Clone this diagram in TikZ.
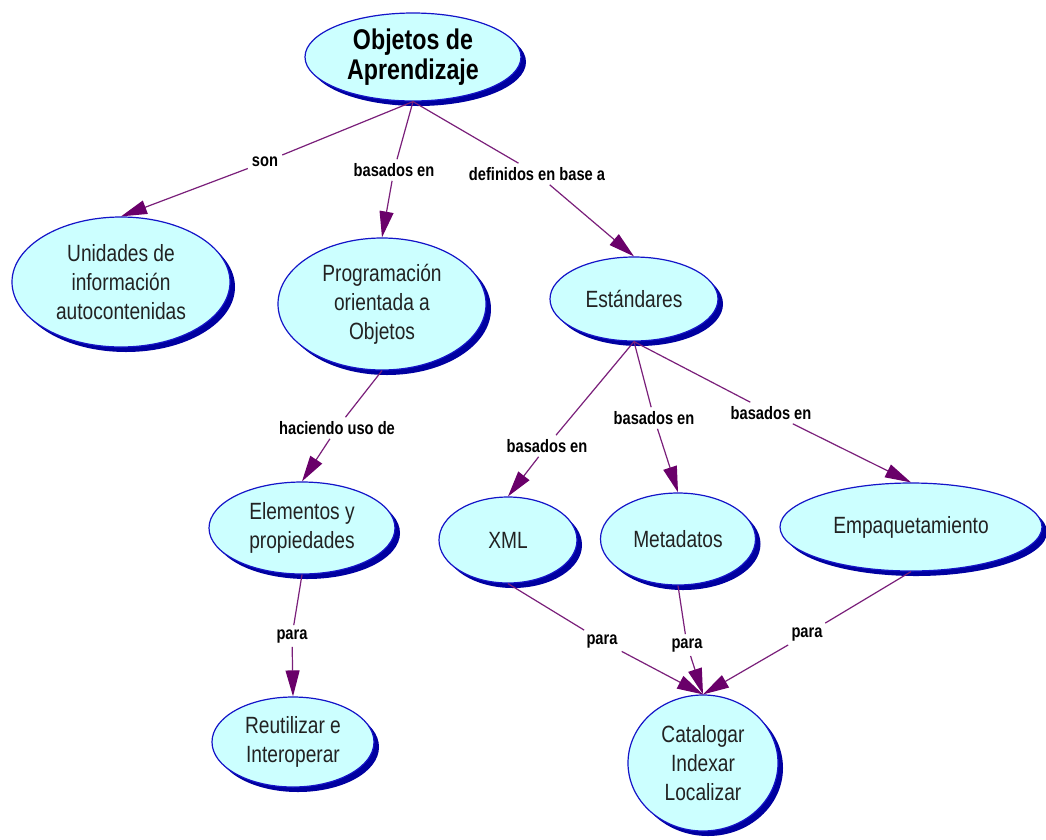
\documentclass[tikz,border=0pt]{standalone}
\usepackage{fontspec}
\setmainfont{Liberation Sans}[FakeStretch=0.815]
\usetikzlibrary{shapes.geometric,shadows,arrows.meta}
\definecolor{cfill}{HTML}{CCFFFF}
\definecolor{cborder}{HTML}{1414C8}
\definecolor{cshadow}{HTML}{0000A0}
\definecolor{clink}{HTML}{7A1F7A}
\definecolor{carrow}{HTML}{6A006A}
\definecolor{ctext}{HTML}{222222}
\begin{document}
\begin{tikzpicture}[x=1pt,y=-1pt,
  concept/.style={ellipse, draw=cborder, line width=1.2pt, fill=cfill,
    inner sep=0pt, align=center, text=ctext,
    font=\fontsize{23.5}{29}\selectfont,
    drop shadow={shadow xshift=5pt, shadow yshift=-5pt, fill=cshadow, opacity=1}},
  linklabel/.style={font=\bfseries\fontsize{18}{19}\selectfont, inner sep=4pt, text=black},
  link/.style={draw=clink, line width=1.2pt},
  arrowlink/.style={link, -{Triangle[length=26pt,width=14pt,color=carrow]}}]
\useasboundingbox (0,0) rectangle (1046,839);
\fill[white] (0,0) rectangle (1046,839);

% concepts
\node[concept, minimum width=216pt, minimum height=88pt,
      font=\bfseries\fontsize{28.5}{30}\selectfont, text=black] (obj) at (413,57) {Objetos de\\Aprendizaje};
\node[concept, minimum width=218pt, minimum height=130pt] (uni) at (121,282) {Unidades de\\información\\autocontenidas};
\node[concept, minimum width=208pt, minimum height=132pt] (poo) at (382,304) {Programación\\orientada a\\Objetos};
\node[concept, minimum width=168pt, minimum height=84pt] (est) at (634,299) {Estándares};
\node[concept, minimum width=186pt, minimum height=92pt] (ele) at (302,528) {Elementos y\\propiedades};
\node[concept, minimum width=138pt, minimum height=86pt] (xml) at (508,540) {XML};
\node[concept, minimum width=155pt, minimum height=92pt] (met) at (678,539) {Metadatos};
\node[concept, minimum width=262pt, minimum height=88pt] (emp) at (911,527) {Empaquetamiento};
\node[concept, minimum width=162pt, minimum height=90pt] (reu) at (293,742) {Reutilizar e\\Interoperar};
\node[concept, minimum width=150pt, minimum height=136pt] (cat) at (703,763) {Catalogar\\Indexar\\Localizar};

% link labels
\node[linklabel] (l1) at (265,162) {son};
\node[linklabel] (l2) at (394,170) {basados en};
\node[linklabel] (l3) at (537,174) {definidos en base a};
\node[linklabel] (l4) at (337,428) {haciendo uso de};
\node[linklabel] (l5) at (547,446) {basados en};
\node[linklabel] (l6) at (654,418) {basados en};
\node[linklabel] (l7) at (771,413) {basados en};
\node[linklabel] (l8) at (292,636) {para};
\node[linklabel] (l9) at (602,641) {para};
\node[linklabel] (l10) at (687,645) {para};
\node[linklabel] (l11) at (807,634) {para};

% connectors
\draw[link] (obj.south) -- (l1);
\draw[arrowlink] (l1) -- (uni.north);
\draw[link] (obj.south) -- (l2);
\draw[arrowlink] (l2) -- (poo.north);
\draw[link] (obj.south) -- (l3);
\draw[arrowlink] (l3) -- (est.north);
\draw[link] (poo.south) -- (l4);
\draw[arrowlink] (l4) -- (ele.north);
\draw[link] (est.south) -- (l5);
\draw[arrowlink] (l5) -- (xml.north);
\draw[link] (est.south) -- (l6);
\draw[arrowlink] (l6) -- (met.north);
\draw[link] (est.south) -- (l7);
\draw[arrowlink] (l7) -- (emp.north);
\draw[link] (ele.south) -- (l8);
\draw[arrowlink] (l8) -- (reu.north);
\draw[link] (xml.south) -- (l9);
\draw[arrowlink] (l9) -- (cat.north);
\draw[link] (met.south) -- (l10);
\draw[arrowlink] (l10) -- (cat.north);
\draw[link] (emp.south) -- (l11);
\draw[arrowlink] (l11) -- (cat.north);
\end{tikzpicture}
\end{document}
